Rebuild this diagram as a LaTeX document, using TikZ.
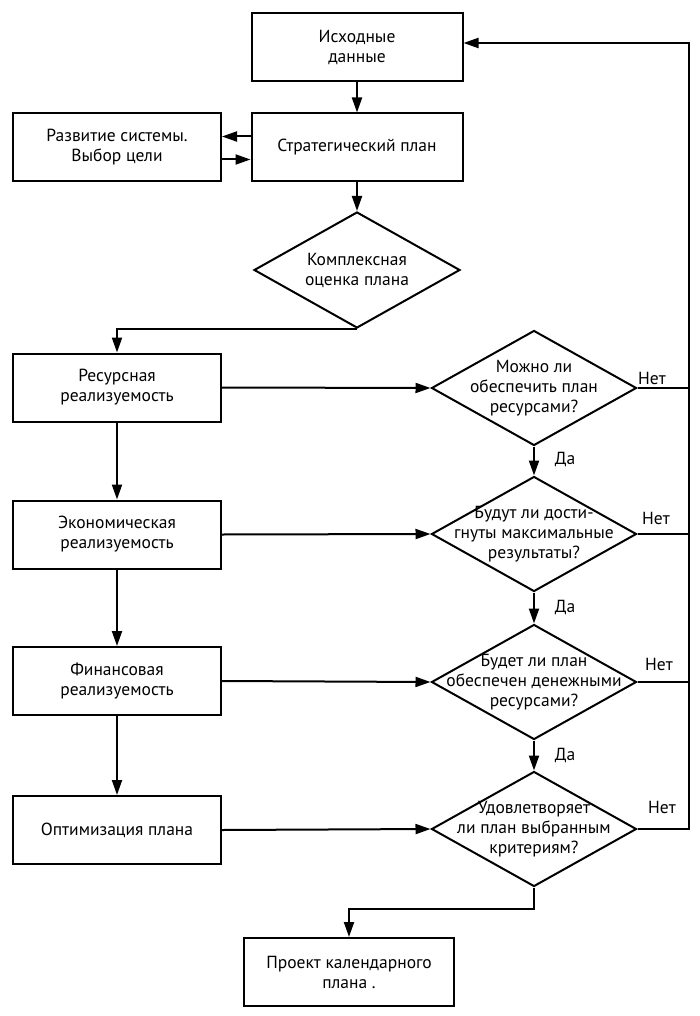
\documentclass[tikz,border=0pt]{standalone}
\usepackage{fontspec}
\setmainfont{PT Sans}
\usetikzlibrary{arrows.meta,shapes.geometric}
\begin{document}
\begin{tikzpicture}[x=1pt,y=-1pt,
  font=\fontsize{17.5}{20}\selectfont,
  every path/.style={line width=2pt},
  box/.style={draw,rectangle,line width=2pt,minimum width=208pt,minimum height=68pt,inner sep=0pt,align=center},
  dia/.style={draw,diamond,line width=2pt,minimum width=205pt,minimum height=115pt,inner sep=0pt},
  txt/.style={align=center,inner sep=0pt},
  lbl/.style={inner sep=0pt},
  arr/.style={-{Triangle[length=15pt,width=10pt]}}]
\useasboundingbox (0,0) rectangle (700,1016);
% boxes
\node[box,minimum width=211pt] (src) at (357,47) {Исходные\\данные};
\node[box,minimum width=211pt] (strat) at (357,147.5) {Стратегический план};
\node[box] (dev) at (117,147.5) {Развитие системы.\\Выбор цели};
\node[dia,minimum width=206pt,minimum height=116pt] (eval) at (357,270) {};
\node[txt] (evalt) at (357,270) {Комплексная\\оценка плана};
\node[box] (res) at (117,387.5) {Ресурсная\\реализуемость};
\node[box] (eco) at (117,534.5) {Экономическая\\реализуемость};
\node[box] (fin) at (117,681) {Финансовая\\реализуемость};
\node[box] (opt) at (117,830) {Оптимизация плана};
\node[box,minimum width=210pt] (proj) at (349,972) {Проект календарного\\плана .};
% decisions
\node[dia] (d1) at (534,388) {};
\node[txt] (d1t) at (534,388) {Можно ли\\обеспечить план\\ресурсами?};
\node[dia] (d2) at (534,534) {};
\node[txt] (d2t) at (534,534) {Будут ли дости-\\гнуты максимальные\\результаты?};
\node[dia] (d3) at (534,682) {};
\node[txt] (d3t) at (534,682) {Будет ли план\\обеспечен денежными\\ресурсами?};
\node[dia] (d4) at (534,829) {};
\node[txt] (d4t) at (534,829) {Удовлетворяет\\ли план выбранным\\критериям?};
% labels
\node[lbl] (n1) at (652,378) {Нет};
\node[lbl] (n2) at (656,518) {Нет};
\node[lbl] (n3) at (659,664) {Нет};
\node[lbl] (n4) at (662,807) {Нет};
\node[lbl] (y1) at (565,459) {Да};
\node[lbl] (y2) at (565,607) {Да};
\node[lbl] (y3) at (565,755) {Да};
% connectors
\draw[arr] (src.south) -- (strat.north);
\draw[arr] ([yshift=11pt]strat.west) -- ([yshift=11pt]dev.east);
\draw[arr] ([yshift=-12pt]dev.east) -- ([yshift=-12pt]strat.west);
\draw[arr] (strat.south) -- (eval.north);
\draw[arr] (eval.south) -| (res.north);
\draw[arr] (res.south) -- (eco.north);
\draw[arr] (eco.south) -- (fin.north);
\draw[arr] (fin.south) -- (opt.north);
\draw[arr] (res.east) -- (d1.west);
\draw[arr] (eco.east) -- (d2.west);
\draw[arr] (fin.east) -- (d3.west);
\draw[arr] (opt.east) -- (d4.west);
\draw[arr] (d1.south) -- (d2.north);
\draw[arr] (d2.south) -- (d3.north);
\draw[arr] (d3.south) -- (d4.north);
\coordinate (ftop) at (689,43);
\coordinate (fbot) at (689,829);
\draw[arr] (d4.south) -- ++(0,21) -| (proj.north);
\draw (d1.east) -- (d1.east -| fbot);
\draw (d2.east) -- (d2.east -| fbot);
\draw (d3.east) -- (d3.east -| fbot);
\draw[arr,line join=miter] (d4.east) -- (fbot) -- (ftop) -- (ftop -| src.east);
\end{tikzpicture}
\end{document}
